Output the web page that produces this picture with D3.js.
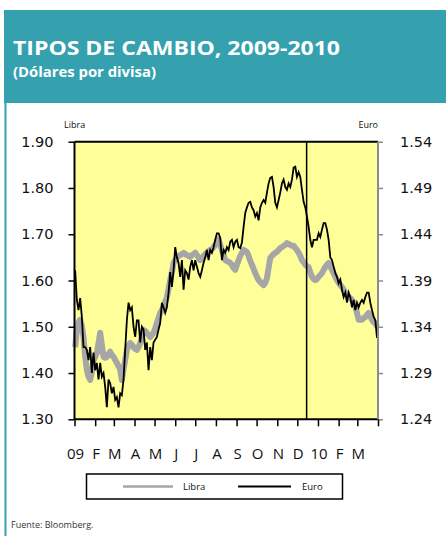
<!DOCTYPE html>
<html>
<head>
<meta charset="utf-8">
<script src="https://cdn.jsdelivr.net/npm/d3@7"></script>
<style>
  body { margin: 0; background: #fff; }
  svg { display: block; }
</style>
</head>
<body>
<div id="chart"></div>
<script>
// Samples taken every 2.5 days from 2 Jan 2009
const sampleStart = new Date(2009, 0, 2);
const sampleStepHours = 60;

// Libra (USD per GBP), left axis
const libra = [
  1.456, 1.493, 1.510, 1.515, 1.502, 1.478, 1.435, 1.407, 1.392, 1.385,
  1.402, 1.428, 1.435, 1.443, 1.465, 1.487, 1.461, 1.435, 1.433, 1.435,
  1.441, 1.446, 1.439, 1.435, 1.428, 1.422, 1.415, 1.407, 1.385, 1.407,
  1.428, 1.450, 1.459, 1.465, 1.461, 1.456, 1.452, 1.450, 1.456, 1.465,
  1.478, 1.493, 1.491, 1.487, 1.482, 1.478, 1.482, 1.487, 1.497, 1.508,
  1.519, 1.530, 1.536, 1.543, 1.554, 1.564, 1.582, 1.601, 1.618, 1.638,
  1.644, 1.649, 1.653, 1.655, 1.657, 1.660, 1.657, 1.655, 1.653, 1.651,
  1.655, 1.657, 1.660, 1.655, 1.649, 1.644, 1.649, 1.653, 1.657, 1.660,
  1.664, 1.666, 1.668, 1.672, 1.677, 1.683, 1.688, 1.677, 1.666, 1.655,
  1.644, 1.642, 1.640, 1.638, 1.634, 1.627, 1.623, 1.634, 1.644, 1.653,
  1.660, 1.666, 1.664, 1.662, 1.653, 1.642, 1.634, 1.625, 1.616, 1.608,
  1.601, 1.597, 1.593, 1.590, 1.595, 1.605, 1.627, 1.649, 1.653, 1.657,
  1.660, 1.662, 1.666, 1.670, 1.672, 1.675, 1.677, 1.681, 1.679, 1.677,
  1.675, 1.675, 1.670, 1.666, 1.660, 1.653, 1.644, 1.640, 1.634, 1.631,
  1.629, 1.618, 1.608, 1.603, 1.601, 1.603, 1.608, 1.612, 1.616, 1.623,
  1.629, 1.634, 1.638, 1.631, 1.623, 1.616, 1.608, 1.601, 1.595, 1.590,
  1.586, 1.580, 1.573, 1.569, 1.564, 1.562, 1.558, 1.551, 1.543, 1.530,
  1.515, 1.515, 1.515, 1.519, 1.521, 1.526, 1.530, 1.523, 1.515, 1.510,
  1.508, 1.500
];

// Euro (USD per EUR), right axis
const euro = [
  1.401, 1.369, 1.358, 1.371, 1.351, 1.318, 1.318, 1.315, 1.304, 1.318,
  1.290, 1.312, 1.293, 1.301, 1.283, 1.301, 1.286, 1.290, 1.275, 1.253,
  1.283, 1.279, 1.268, 1.275, 1.261, 1.264, 1.253, 1.268, 1.266, 1.283,
  1.315, 1.347, 1.366, 1.358, 1.361, 1.340, 1.329, 1.347, 1.347, 1.323,
  1.340, 1.337, 1.315, 1.323, 1.293, 1.318, 1.304, 1.323, 1.326, 1.329,
  1.337, 1.344, 1.366, 1.361, 1.355, 1.361, 1.377, 1.399, 1.383, 1.401,
  1.426, 1.415, 1.409, 1.394, 1.412, 1.380, 1.401, 1.398, 1.391, 1.405,
  1.412, 1.401, 1.412, 1.405, 1.398, 1.394, 1.401, 1.409, 1.415, 1.423,
  1.412, 1.423, 1.420, 1.426, 1.434, 1.441, 1.441, 1.436, 1.412, 1.423,
  1.420, 1.426, 1.423, 1.432, 1.434, 1.426, 1.432, 1.434, 1.426, 1.425,
  1.431, 1.448, 1.463, 1.469, 1.474, 1.475, 1.469, 1.466, 1.459, 1.463,
  1.455, 1.469, 1.474, 1.477, 1.474, 1.485, 1.495, 1.501, 1.502, 1.491,
  1.474, 1.469, 1.477, 1.485, 1.495, 1.499, 1.491, 1.488, 1.495, 1.491,
  1.499, 1.512, 1.513, 1.502, 1.507, 1.502, 1.488, 1.475, 1.469, 1.459,
  1.448, 1.434, 1.426, 1.434, 1.434, 1.434, 1.441, 1.437, 1.445, 1.452,
  1.452, 1.445, 1.434, 1.415, 1.412, 1.405, 1.398, 1.394, 1.387, 1.391,
  1.380, 1.372, 1.377, 1.366, 1.377, 1.372, 1.361, 1.369, 1.358, 1.366,
  1.361, 1.366, 1.369, 1.366, 1.372, 1.377, 1.377, 1.366, 1.358, 1.351,
  1.347, 1.328
];

const leftTicks = [1.30, 1.40, 1.50, 1.60, 1.70, 1.80, 1.90];
const rightTicks = [1.24, 1.29, 1.34, 1.39, 1.44, 1.49, 1.54];
const monthLabels = ["09", "F", "M", "A", "M", "J", "J", "A", "S", "O", "N", "D", "10", "F", "M"];
const markerDate = new Date(2009, 11, 15);

const W = 446, H = 536;
const teal = "#35a1af";

const svg = d3.select("#chart").append("svg")
    .attr("width", W)
    .attr("height", H);

// header band
svg.append("rect")
    .attr("x", 4).attr("y", 10)
    .attr("width", W - 4).attr("height", 93)
    .attr("fill", teal);
svg.append("line")
    .attr("x1", 5.5).attr("x2", 5.5)
    .attr("y1", 10).attr("y2", H)
    .attr("stroke", teal).attr("stroke-width", 2);

svg.append("text")
    .attr("x", 13).attr("y", 55)
    .attr("fill", "#fff")
    .attr("font-family", "'Open Sans', sans-serif")
    .attr("font-weight", "bold")
    .attr("font-size", 19)
    .attr("textLength", 327)
    .attr("lengthAdjust", "spacingAndGlyphs")
    .text("TIPOS DE CAMBIO, 2009-2010");
svg.append("text")
    .attr("x", 13).attr("y", 77)
    .attr("fill", "#fff")
    .attr("font-family", "'Open Sans', sans-serif")
    .attr("font-weight", "bold")
    .attr("font-size", 13.5)
    .attr("textLength", 143)
    .attr("lengthAdjust", "spacingAndGlyphs")
    .text("(Dólares por divisa)");

// scales
const x = d3.scaleTime()
    .domain([new Date(2009, 0, 1), new Date(2010, 3, 1)])
    .range([74.5, 378]);
const yL = d3.scaleLinear().domain([1.30, 1.90]).range([419.3, 141.7]);
const yR = d3.scaleLinear().domain([1.24, 1.54]).range([419.3, 141.7]);

const dates = libra.map((d, i) => d3.timeHour.offset(sampleStart, i * sampleStepHours));

// plot background
svg.append("rect")
    .attr("x", x.range()[0]).attr("y", yL.range()[1])
    .attr("width", x.range()[1] - x.range()[0])
    .attr("height", yL.range()[0] - yL.range()[1])
    .attr("fill", "#ffff99");

// left axis
const gL = svg.append("g")
    .attr("transform", `translate(${x.range()[0]},0)`)
    .call(d3.axisLeft(yL).tickValues(leftTicks).tickSize(6).tickSizeOuter(0)
        .tickPadding(15).tickFormat(d3.format(".2f")));
gL.select(".domain").remove();
gL.selectAll(".tick line").attr("stroke", "#000").attr("stroke-width", 1.5);
gL.selectAll(".tick text")
    .attr("font-family", "'DejaVu Sans', sans-serif")
    .attr("font-size", 14.5).attr("fill", "#111");

// right axis
const gR = svg.append("g")
    .attr("transform", `translate(${x.range()[1]},0)`)
    .call(d3.axisRight(yR).tickValues(rightTicks).tickSize(5).tickSizeOuter(0)
        .tickPadding(17).tickFormat(d3.format(".2f")));
gR.select(".domain").remove();
gR.selectAll(".tick line").attr("stroke", "#8c8c8c").attr("stroke-width", 1.5);
gR.selectAll(".tick text")
    .attr("font-family", "'DejaVu Sans', sans-serif")
    .attr("font-size", 14.5).attr("fill", "#111");

// bottom axis: month ticks with the label under each tick
const gX = svg.append("g")
    .attr("transform", `translate(0,${yL.range()[0]})`)
    .call(d3.axisBottom(x)
        .tickValues(d3.timeMonth.range(new Date(2009, 0, 1), new Date(2010, 3, 2)))
        .tickSize(7).tickSizeOuter(0).tickFormat(""));
gX.select(".domain").remove();
gX.selectAll(".tick line").attr("stroke", "#000").attr("stroke-width", 1.5);

const months = d3.timeMonth.range(new Date(2009, 0, 1), new Date(2010, 3, 1));
svg.append("g").selectAll("text")
    .data(months)
    .join("text")
    .attr("x", d => x(d) + 1)
    .attr("y", 458.5)
    .attr("text-anchor", "middle")
    .attr("font-family", "'Open Sans', sans-serif")
    .attr("font-size", 15)
    .attr("fill", "#111")
    .text((d, i) => monthLabels[i]);

// series
svg.append("path")
    .datum(libra)
    .attr("fill", "none")
    .attr("stroke", "#a6a6a6")
    .attr("stroke-width", 6)
    .attr("stroke-linejoin", "round")
    .attr("d", d3.line().x((d, i) => x(dates[i])).y(d => yL(d)));

svg.append("path")
    .datum(euro)
    .attr("fill", "none")
    .attr("stroke", "#000")
    .attr("stroke-width", 1.8)
    .attr("d", d3.line().x((d, i) => x(dates[i])).y(d => yR(d)));

// vertical marker
svg.append("line")
    .attr("x1", x(markerDate)).attr("x2", x(markerDate))
    .attr("y1", yL.range()[1]).attr("y2", yL.range()[0])
    .attr("stroke", "#000").attr("stroke-width", 1.5);

// frame
const [px0, px1] = x.range();
const [py1, py0] = yL.range();
svg.append("line").attr("x1", px0).attr("x2", px1).attr("y1", py0).attr("y2", py0)
    .attr("stroke", "#000").attr("stroke-width", 2);
svg.append("line").attr("x1", px0).attr("x2", px1).attr("y1", py1).attr("y2", py1)
    .attr("stroke", "#000").attr("stroke-width", 2);
svg.append("line").attr("x1", px0).attr("x2", px0).attr("y1", py0).attr("y2", py1)
    .attr("stroke", "#000").attr("stroke-width", 2);
svg.append("line").attr("x1", px1).attr("x2", px1).attr("y1", py0).attr("y2", py1)
    .attr("stroke", "#8c8c8c").attr("stroke-width", 2);

// axis titles
svg.append("text")
    .attr("x", 64).attr("y", 128)
    .attr("font-family", "'Open Sans', sans-serif")
    .attr("font-size", 9).attr("fill", "#111")
    .text("Libra");
svg.append("text")
    .attr("x", 378).attr("y", 128)
    .attr("text-anchor", "end")
    .attr("font-family", "'Open Sans', sans-serif")
    .attr("font-size", 9).attr("fill", "#111")
    .text("Euro");

// legend
const legend = svg.append("g");
legend.append("rect")
    .attr("x", 86.5).attr("y", 474)
    .attr("width", 256).attr("height", 25)
    .attr("fill", "#fff").attr("stroke", "#000").attr("stroke-width", 1.5);
legend.append("line")
    .attr("x1", 123).attr("x2", 173).attr("y1", 486.5).attr("y2", 486.5)
    .attr("stroke", "#a6a6a6").attr("stroke-width", 2.5);
legend.append("text")
    .attr("x", 183).attr("y", 490)
    .attr("font-family", "'Open Sans', sans-serif")
    .attr("font-size", 9.5).attr("fill", "#111")
    .text("Libra");
legend.append("line")
    .attr("x1", 238).attr("x2", 291).attr("y1", 486.5).attr("y2", 486.5)
    .attr("stroke", "#000").attr("stroke-width", 2);
legend.append("text")
    .attr("x", 302).attr("y", 490)
    .attr("font-family", "'Open Sans', sans-serif")
    .attr("font-size", 9.5).attr("fill", "#111")
    .text("Euro");

// source
svg.append("text")
    .attr("x", 11).attr("y", 528)
    .attr("font-family", "'Open Sans', sans-serif")
    .attr("font-size", 9).attr("fill", "#333")
    .text("Fuente:  Bloomberg.");
</script>
</body>
</html>
